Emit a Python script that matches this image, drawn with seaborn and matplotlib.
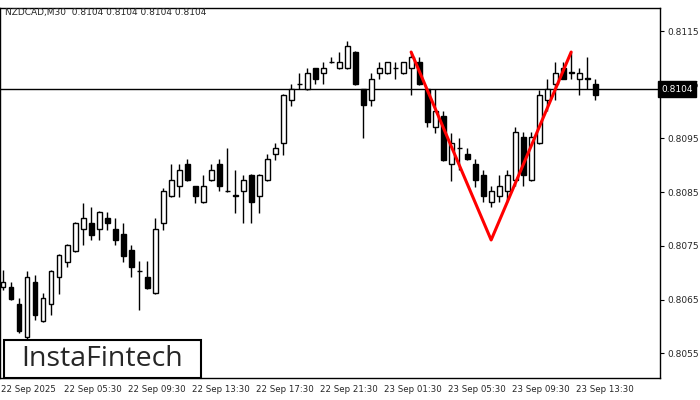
import numpy as np
import pandas as pd
import matplotlib
matplotlib.use("Agg")
import matplotlib.pyplot as plt
import seaborn as sns

opens = [0.80673,0.80673,0.80641,0.80580,0.80682,0.80610,0.80641,0.80692,0.80720,0.80740,
         0.80781,0.80792,0.80781,0.80802,0.80781,0.80772,0.80742,0.80703,0.80692,0.80662,
         0.80792,0.80843,0.80861,0.80902,0.80861,0.80831,0.80872,0.80902,0.80852,0.80843,
         0.80852,0.80882,0.80843,0.80872,0.80921,0.80941,0.81021,0.81051,0.81042,0.81081,
         0.81072,0.81092,0.81081,0.81081,0.81111,0.81042,0.81021,0.81072,0.81072,0.81081,
         0.81072,0.81081,0.81092,0.81042,0.80971,0.80992,0.80902,0.80932,0.80921,0.80902,
         0.80882,0.80831,0.80843,0.80852,0.80872,0.80953,0.80872,0.80941,0.81021,0.81051,
         0.81081,0.81072,0.81061,0.81061,0.81051]
highs = [0.80705,0.80682,0.80653,0.80703,0.80695,0.80662,0.80705,0.80735,0.80753,0.80794,
         0.80830,0.80822,0.80815,0.80813,0.80802,0.80792,0.80751,0.80722,0.80722,0.80802,
         0.80857,0.80902,0.80902,0.80912,0.80862,0.80882,0.80902,0.80912,0.80932,0.80891,
         0.80882,0.80883,0.80883,0.80921,0.80941,0.81032,0.81051,0.81072,0.81081,0.81082,
         0.81092,0.81102,0.81111,0.81131,0.81112,0.81043,0.81072,0.81092,0.81093,0.81092,
         0.81093,0.81111,0.81102,0.81043,0.81042,0.81001,0.80960,0.80951,0.80932,0.80912,
         0.80891,0.80861,0.80882,0.80891,0.80971,0.80962,0.80962,0.81040,0.81061,0.81092,
         0.81092,0.81111,0.81081,0.81102,0.81061]
lows = [0.80667,0.80649,0.80588,0.80574,0.80612,0.80608,0.80621,0.80660,0.80710,0.80738,
        0.80751,0.80761,0.80761,0.80779,0.80751,0.80720,0.80692,0.80630,0.80669,0.80660,
        0.80779,0.80841,0.80841,0.80870,0.80830,0.80829,0.80870,0.80852,0.80851,0.80811,
        0.80792,0.80792,0.80811,0.80870,0.80910,0.80919,0.81010,0.81042,0.81040,0.81051,
        0.81051,0.81091,0.81080,0.81080,0.81050,0.80951,0.81010,0.81061,0.81071,0.81061,
        0.81071,0.81031,0.81050,0.80971,0.80960,0.80909,0.80871,0.80891,0.80910,0.80859,
        0.80831,0.80822,0.80831,0.80831,0.80861,0.80861,0.80870,0.80940,0.81001,0.81021,
        0.81060,0.81061,0.81031,0.81042,0.81021]
closes = [0.80682,0.80651,0.80591,0.80692,0.80621,0.80653,0.80703,0.80733,0.80751,0.80792,
          0.80802,0.80770,0.80813,0.80792,0.80761,0.80731,0.80710,0.80704,0.80671,0.80781,
          0.80852,0.80872,0.80891,0.80872,0.80843,0.80861,0.80891,0.80861,0.80853,0.80844,
          0.80872,0.80831,0.80882,0.80912,0.80932,0.81031,0.81042,0.81052,0.81072,0.81061,
          0.81081,0.81093,0.81092,0.81122,0.81051,0.81012,0.81061,0.81081,0.81092,0.81082,
          0.81092,0.81102,0.81051,0.80980,0.81001,0.80910,0.80941,0.80933,0.80912,0.80872,
          0.80843,0.80852,0.80861,0.80882,0.80962,0.80882,0.80953,0.81031,0.81042,0.81072,
          0.81061,0.81073,0.81072,0.81062,0.81031]

pattern_idx = [51, 61, 71]
pattern_price = [0.81111, 0.80761, 0.81111]
current_price = 0.81042
y_ticks = [0.8055, 0.8065, 0.8075, 0.8085, 0.8095, 0.8105, 0.8115]
x_tick_labels = ["22 Sep 2025", "22 Sep 05:30", "22 Sep 09:30", "22 Sep 13:30", "22 Sep 17:30",
                 "22 Sep 21:30", "23 Sep 01:30", "23 Sep 05:30", "23 Sep 09:30", "23 Sep 13:30"]
title = "NZDCAD,M30  0.8104 0.8104 0.8104 0.8104"

sns.set_style("white")
plt.rcParams['font.family'] = ['DejaVu Sans']

fig = plt.figure(figsize=(7, 4), dpi=100)
ax = fig.add_axes([0, 22/400, 660/700, 370/400])

df = pd.DataFrame({"o": opens, "h": highs, "l": lows, "c": closes})
df["i"] = np.arange(len(df))
ax.vlines(df["i"], df["l"], df["h"], color="black", lw=1, zorder=2)
up = df["c"] >= df["o"]
bottom = np.minimum(df["o"], df["c"])
height = np.maximum(np.abs(df["c"] - df["o"]), 0.000004)
ax.bar(df["i"][up], height[up], bottom=bottom[up], width=0.62, color="white",
       edgecolor="black", lw=1, zorder=3)
ax.bar(df["i"][~up], height[~up], bottom=bottom[~up], width=0.62, color="black",
       edgecolor="black", lw=1, zorder=3)

ax.axhline(current_price, color="black", lw=1, zorder=1)
sns.lineplot(x=pattern_idx, y=pattern_price, ax=ax, color="red", lw=2.2, zorder=4)

ax.set_xlim(-0.375, 82.1)
ax.set_ylim(0.80504, 0.81193)
ax.yaxis.tick_right()
ax.set_yticks(y_ticks)
ax.set_yticklabels([f"{v:.4f}" for v in y_ticks], fontsize=6.5)
ax.set_xticks([3.2 + 8 * k for k in range(len(x_tick_labels))])
ax.set_xticklabels(x_tick_labels, fontsize=6.2)
ax.tick_params(axis="both", length=3, color="black", pad=2)
for s in ax.spines.values():
    s.set_color("black")
    s.set_linewidth(1)

fig.text(5/700, 1 - 13/400, title, fontsize=6.5, ha="left", va="center")

ax.text(82.3, current_price, "0.8104", fontsize=6.5, color="white", ha="left", va="center",
        bbox=dict(boxstyle="square,pad=0.35", fc="black", ec="black"), clip_on=False, zorder=20)

fig.patches.append(plt.Rectangle((4/700, 22/400), 197/700, 38/400, transform=fig.transFigure,
                                 fc="white", ec="black", lw=1.5, zorder=10))
fig.text(102/700, 1 - 359/400, "InstaFintech", fontsize=20.5, ha="center", va="center",
         zorder=11, family="Open Sans")

fig.savefig("out.png", dpi=100)
